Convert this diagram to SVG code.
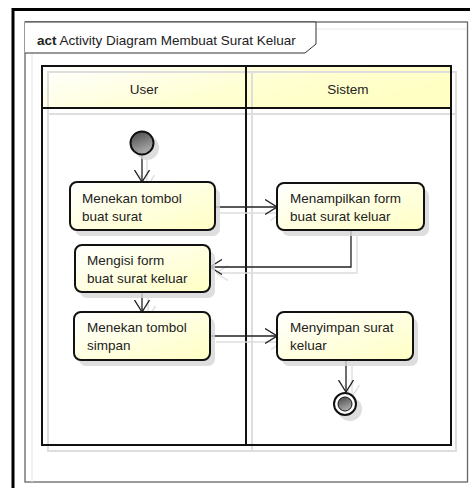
<svg xmlns="http://www.w3.org/2000/svg" width="470" height="488" viewBox="0 0 470 488">
<defs>
<linearGradient id="yel" x1="0" y1="0" x2="1" y2="1">
<stop offset="0" stop-color="#FFFFFF"/>
<stop offset="1" stop-color="#FFFFC4"/>
</linearGradient>
<linearGradient id="hdr" x1="0" y1="0" x2="1" y2="0.4">
<stop offset="0" stop-color="#FFFFFF"/>
<stop offset="0.6" stop-color="#FFFFD2"/>
<stop offset="1" stop-color="#FFFFC4"/>
</linearGradient>
<linearGradient id="dark" x1="0" y1="0" x2="0.4" y2="1">
<stop offset="0" stop-color="#444"/>
<stop offset="1" stop-color="#aaa"/>
</linearGradient>
<marker id="arr" viewBox="0 0 13 16" markerWidth="13" markerHeight="16" refX="12.5" refY="8" orient="auto" markerUnits="userSpaceOnUse">
<path d="M0.5,0.5 L12.5,8 L0.5,15.5" fill="none" stroke="#222" stroke-width="1.3"/>
</marker>
<marker id="arrS" viewBox="0 0 13 16" markerWidth="13" markerHeight="16" refX="12.5" refY="8" orient="auto" markerUnits="userSpaceOnUse">
<path d="M0.5,0.5 L12.5,8 L0.5,15.5" fill="none" stroke="#dcdcdc" stroke-width="1.3"/>
</marker>
</defs>
<style>
.t{font-family:"Liberation Sans",Arial,sans-serif;font-size:13.5px;fill:#222}
.box{fill:url(#yel);stroke:#111;stroke-width:2}
.sh{fill:#d6d6d6;opacity:0.8}
.ln{fill:none;stroke:#222;stroke-width:1.3}
.lnS{fill:none;stroke:#dcdcdc;stroke-width:1.3}
.lane{fill:none;stroke:#111;stroke-width:2}
.laneS{fill:none;stroke:#dedede;stroke-width:2}
</style>
<rect width="470" height="488" fill="#fff"/>
<!-- outer thick border -->
<path d="M13,488 L13,9.5 L470,9.5" fill="none" stroke="#000" stroke-width="3"/>
<!-- frame -->
<g id="frame">
<rect x="25" y="22" width="442.5" height="460" fill="#fff" stroke="#666" stroke-width="1.3"/>
<path d="M32,482 L32,29 L466.5,29" fill="none" stroke="#e8e8e8" stroke-width="1.2"/>
<path d="M25,22 L316,22 L316,44 L305,53 L25,53" fill="#fff" stroke="#333" stroke-width="1"/>
<text x="37" y="45" class="t"><tspan font-weight="bold">act</tspan> Activity Diagram Membuat Surat Keluar</text>
</g>
<!-- swimlanes -->
<g id="lanes">
<rect x="42" y="66" width="409" height="42" fill="url(#hdr)"/>
<rect x="48" y="72" width="204" height="379" class="laneS"/>
<rect x="252" y="72" width="204" height="379" class="laneS"/>
<line x1="48" y1="114" x2="456" y2="114" class="laneS"/>
<g id="lane-user">
<rect x="42" y="66" width="204" height="379" class="lane"/>
<line x1="42" y1="108" x2="246" y2="108" class="lane"/>
<text x="144" y="94" class="t" text-anchor="middle">User</text>
</g>
<g id="lane-sistem">
<rect x="246" y="66" width="205" height="379" class="lane"/>
<line x1="246" y1="108" x2="451" y2="108" class="lane"/>
<text x="348" y="94" class="t" text-anchor="middle">Sistem</text>
</g>
</g>
<!-- connectors -->
<g id="connectors">
<path d="M147,160 L147,187" class="lnS" marker-end="url(#arrS)"/>
<path d="M220,213 L282,213" class="lnS" marker-end="url(#arrS)"/>
<path d="M357,236 L357,273 L216,273" class="lnS" marker-end="url(#arrS)"/>
<path d="M148,298 L148,318" class="lnS" marker-end="url(#arrS)"/>
<path d="M216,342 L283,342" class="lnS" marker-end="url(#arrS)"/>
<path d="M352,366 L352,397" class="lnS" marker-end="url(#arrS)"/>
<path d="M142,155 L142,182" class="ln" marker-end="url(#arr)"/>
<path d="M215,207 L277,207" class="ln" marker-end="url(#arr)"/>
<path d="M351,230 L351,267 L210,267" class="ln" marker-end="url(#arr)"/>
<path d="M142,292 L142,312" class="ln" marker-end="url(#arr)"/>
<path d="M210,336 L277,336" class="ln" marker-end="url(#arr)"/>
<path d="M346,360 L346,392" class="ln" marker-end="url(#arr)"/>
</g>
<!-- nodes -->
<g id="start">
<circle cx="147" cy="148" r="12" class="sh"/>
<circle cx="142" cy="143" r="11.5" fill="url(#dark)" stroke="#111" stroke-width="2"/>
</g>
<g id="n1">
<rect x="75" y="188" width="145" height="48" rx="7" class="sh"/>
<rect x="70" y="182" width="145" height="48" rx="7" class="box"/>
<text class="t"><tspan x="82" y="203">Menekan tombol</tspan><tspan x="82" y="221">buat surat</tspan></text>
</g>
<g id="n2">
<rect x="282" y="189" width="147" height="47" rx="7" class="sh"/>
<rect x="277" y="183" width="147" height="47" rx="7" class="box"/>
<text class="t"><tspan x="290" y="203">Menampilkan form</tspan><tspan x="290" y="221">buat surat keluar</tspan></text>
</g>
<g id="n3">
<rect x="80" y="251" width="135" height="47" rx="7" class="sh"/>
<rect x="75" y="245" width="135" height="47" rx="7" class="box"/>
<text class="t"><tspan x="87" y="265">Mengisi form</tspan><tspan x="87" y="283">buat surat keluar</tspan></text>
</g>
<g id="n4">
<rect x="79" y="318" width="136" height="48" rx="7" class="sh"/>
<rect x="74" y="312" width="136" height="48" rx="7" class="box"/>
<text class="t"><tspan x="87" y="332">Menekan tombol</tspan><tspan x="87" y="350">simpan</tspan></text>
</g>
<g id="n5">
<rect x="282" y="318" width="136" height="48" rx="7" class="sh"/>
<rect x="277" y="312" width="136" height="48" rx="7" class="box"/>
<text class="t"><tspan x="290" y="332">Menyimpan surat</tspan><tspan x="290" y="350">keluar</tspan></text>
</g>
<g id="end">
<circle cx="350" cy="409" r="12" class="sh"/>
<circle cx="345" cy="404" r="11" fill="#fff" stroke="#111" stroke-width="2"/>
<circle cx="345" cy="404" r="7" fill="url(#dark)" stroke="#111" stroke-width="1"/>
</g>
</svg>
